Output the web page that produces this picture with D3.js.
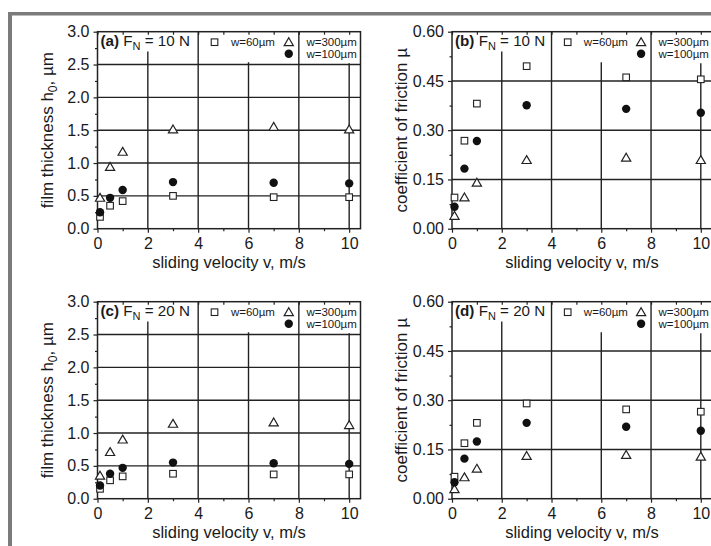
<!DOCTYPE html>
<html><head><meta charset="utf-8">
<script src="https://cdn.jsdelivr.net/npm/d3@7"></script>
<style>
body{margin:0;background:#fff}
svg{display:block}
text{font-family:"Liberation Sans",Arial,sans-serif;fill:#1a1a1a}
</style>
</head><body><svg id="chart" width="711" height="546"></svg>
<script>
// ---- data ----
const velocity = [0.1, 0.5, 1, 3, 7, 10];
const hF10_w60  = [0.18, 0.35, 0.42, 0.50, 0.48, 0.48];
const hF10_w100 = [0.25, 0.47, 0.59, 0.71, 0.70, 0.69];
const hF10_w300 = [0.47, 0.94, 1.17, 1.51, 1.55, 1.51];
const muF10_w60  = [0.095, 0.268, 0.381, 0.495, 0.461, 0.455];
const muF10_w100 = [0.067, 0.183, 0.267, 0.376, 0.365, 0.353];
const muF10_w300 = [0.039, 0.095, 0.140, 0.209, 0.216, 0.209];
const hF20_w60  = [0.15, 0.28, 0.34, 0.38, 0.37, 0.37];
const hF20_w100 = [0.20, 0.38, 0.47, 0.55, 0.54, 0.53];
const hF20_w300 = [0.35, 0.71, 0.90, 1.14, 1.16, 1.12];
const muF20_w60  = [0.067, 0.169, 0.231, 0.290, 0.272, 0.265];
const muF20_w100 = [0.050, 0.122, 0.174, 0.231, 0.219, 0.207];
const muF20_w300 = [0.029, 0.065, 0.091, 0.130, 0.133, 0.128];
const xTicks = [0, 2, 4, 6, 8, 10];
const xMinorTicks = [1, 3, 5, 7, 9];
const hTicks = [0, 0.5, 1.0, 1.5, 2.0, 2.5, 3.0];
const muTicks = [0, 0.15, 0.30, 0.45, 0.60];
const legendLabels = ["w=60µm", "w=300µm", "w=100µm"];
const panelLetters = ["(a)", "(b)", "(c)", "(d)"];
const panelLoads = ["10 N", "10 N", "20 N", "20 N"];
const xTitle = "sliding velocity v, m/s";

// ---- layout ----
const svg = d3.select("#chart");
const ink = "#222";
svg.append("rect").attr("x",0).attr("y",0).attr("width",711).attr("height",546).attr("fill","#fff");
svg.append("rect").attr("x",8).attr("y",12).attr("width",703).attr("height",3.5).attr("fill","#7b7b7b");
svg.append("rect").attr("x",8).attr("y",12).attr("width",4).attr("height",534).attr("fill","#7b7b7b");

const H = 197;
const panels = [
  {kind:"h",  s60:hF10_w60,  s100:hF10_w100,  s300:hF10_w300,  left:97.5, top:31.7, w:263},
  {kind:"mu", s60:muF10_w60, s100:muF10_w100, s300:muF10_w300, left:452,  top:31.7, w:260},
  {kind:"h",  s60:hF20_w60,  s100:hF20_w100,  s300:hF20_w300,  left:97.5, top:301.7, w:263},
  {kind:"mu", s60:muF20_w60, s100:muF20_w100, s300:muF20_w300, left:452,  top:301.7, w:260}
];
const vGridTop = {2:0.90, 4:1.0, 6:0.845, 8:1.0, 10:0.84};

function sq(g, x, y){ g.append("rect").attr("x",x-3.3).attr("y",y-3.3).attr("width",6.6).attr("height",6.6)
  .attr("fill","#fff").attr("stroke",ink).attr("stroke-width",1.1); }
function tri(g, x, y){ g.append("path").attr("d",`M${x},${y-4.5}L${x+4.6},${y+3.4}L${x-4.6},${y+3.4}Z`)
  .attr("fill","#fff").attr("stroke",ink).attr("stroke-width",1.2); }
function dot(g, x, y){ g.append("circle").attr("cx",x).attr("cy",y).attr("r",4.2).attr("fill","#111"); }

panels.forEach((p, i) => {
  const yMax = p.kind === "h" ? 3 : 0.6;
  const yTicks = p.kind === "h" ? hTicks : muTicks;
  const fmt = d3.format(p.kind === "h" ? ".1f" : ".2f");
  const x = d3.scaleLinear().domain([0, 10.45]).range([p.left, p.left + p.w]);
  const y = d3.scaleLinear().domain([0, yMax]).range([p.top + H, p.top]);
  const g = svg.append("g");

  // grid
  yTicks.filter(t => t > 0 && t < yMax).forEach(t => {
    g.append("line").attr("x1",x(0)).attr("x2",x(10.45)).attr("y1",y(t)).attr("y2",y(t))
      .attr("stroke",ink).attr("stroke-width",1.4);
  });
  xTicks.filter(t => t > 0).forEach(t => {
    g.append("line").attr("x1",x(t)).attr("x2",x(t)).attr("y1",y(vGridTop[t]*yMax)).attr("y2",y(0))
      .attr("stroke",ink).attr("stroke-width",1.4);
  });

  // axes
  const xAxis = d3.axisBottom(x).tickValues(xTicks).tickSize(4).tickPadding(5).tickFormat(d3.format("d"));
  const gx = g.append("g").attr("transform",`translate(0,${y(0)})`).call(xAxis);
  const gxm = g.append("g").attr("transform",`translate(0,${y(0)})`)
    .call(d3.axisBottom(x).tickValues(xMinorTicks).tickSize(2.5).tickFormat(""));
  const gxt = g.append("g").attr("transform",`translate(0,${y(yMax)})`)
    .call(d3.axisBottom(x).tickValues(xTicks.concat(xMinorTicks)).tickSize(3).tickFormat(""));
  const yAxis = d3.axisLeft(y).tickValues(yTicks).tickSize(4).tickPadding(4).tickFormat(fmt);
  const gy = g.append("g").attr("transform",`translate(${x(0)},0)`).call(yAxis);
  const minor = d3.range(0, yTicks.length - 1).map(k => (yTicks[k] + yTicks[k+1]) / 2);
  const gym = g.append("g").attr("transform",`translate(${x(0)},0)`)
    .call(d3.axisLeft(y).tickValues(minor).tickSize(2.5).tickFormat(""));
  [gx, gxm, gxt, gy, gym].forEach(a => {
    a.select(".domain").remove();
    a.selectAll("line").attr("stroke",ink).attr("stroke-width",1.2);
    a.selectAll("text").attr("font-size",16).attr("fill","#1a1a1a").attr("font-family","Liberation Sans, Arial, sans-serif");
  });
  // frame
  g.append("rect").attr("x",x(0)).attr("y",y(yMax)).attr("width",x(10.45)-x(0)).attr("height",H)
    .attr("fill","none").attr("stroke",ink).attr("stroke-width",1.5);

  // axis titles
  g.append("text").attr("x",(x(0)+x(10.45))/2).attr("y",y(0)+39).attr("text-anchor","middle")
    .attr("font-size",16.5).text(xTitle);
  const yt = g.append("text").attr("transform",`translate(${x(0)-45},${y(yMax/2)}) rotate(-90)`)
    .attr("text-anchor","middle").attr("font-size",17);
  if (p.kind === "h") {
    yt.append("tspan").text("film thickness h");
    yt.append("tspan").attr("font-size",12).attr("dy",4).text("0");
    yt.append("tspan").attr("dy",-4).text(", µm");
  } else {
    yt.text("coefficient of friction µ");
  }

  // panel title
  const tt = g.append("text").attr("x",x(0)+3).attr("y",y(yMax)+14).attr("font-size",15.2);
  tt.append("tspan").attr("font-weight","bold").text(panelLetters[i]);
  tt.append("tspan").text(" F");
  tt.append("tspan").attr("font-size",11).attr("dy",4).text("N");
  tt.append("tspan").attr("dy",-4).text(" = " + panelLoads[i]);

  // legend
  const ly1 = y(yMax) + 10.5, ly2 = y(yMax) + 22;
  sq(g, x(4.65), ly1);
  g.append("text").attr("x",x(5.3)).attr("y",ly1+4).attr("font-size",11.5).text(legendLabels[0]);
  tri(g, x(7.6), ly1);
  g.append("text").attr("x",x(8.3)).attr("y",ly1+4).attr("font-size",11.5).text(legendLabels[1]);
  dot(g, x(7.6), ly2);
  g.append("text").attr("x",x(8.3)).attr("y",ly2+4).attr("font-size",11.5).text(legendLabels[2]);

  // data
  velocity.forEach((v, k) => {
    sq(g, x(v), y(p.s60[k]));
    tri(g, x(v), y(p.s300[k]));
    dot(g, x(v), y(p.s100[k]));
  });
});
</script></body></html>
